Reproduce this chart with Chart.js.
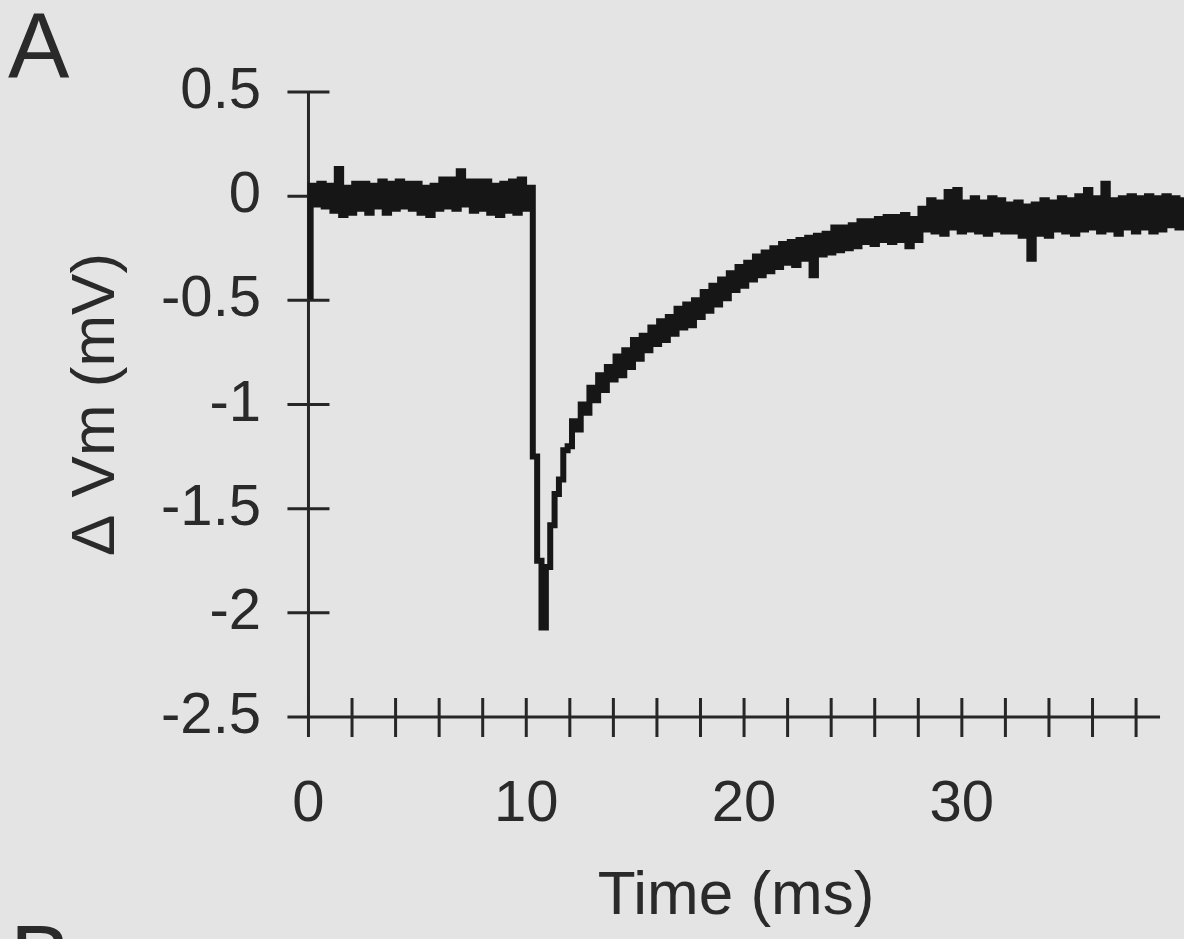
<!DOCTYPE html>
<html>
<head>
<meta charset="utf-8">
<title>Δ Vm trace</title>
<script src="https://cdn.jsdelivr.net/npm/chart.js@4.4.0/dist/chart.umd.min.js"></script>
<style>
  html, body { margin: 0; padding: 0; background: #e4e4e4; }
  #wrap { width: 1184px; height: 939px; }
</style>
</head>
<body>
<div id="wrap"><canvas id="trace" width="1184" height="939"></canvas></div>
<script>
// membrane potential trace, one sample every 0.2 ms starting at 0 ms
const sampleMs = 0.2
const dVm = [
    -0.48, 0.05, -0.04, 0.06, -0.05, 0.05, -0.07, 0.13, -0.09, 0.04,
    -0.08, 0.06, -0.06, 0.06, -0.08, 0.05, -0.05, 0.07, -0.08, 0.06,
    -0.06, 0.07, -0.05, 0.06, -0.06, 0.06, -0.08, 0.04, -0.09, 0.05,
    -0.06, 0.08, -0.05, 0.08, -0.06, 0.12, -0.04, 0.07, -0.07, 0.07,
    -0.06, 0.07, -0.08, 0.05, -0.09, 0.06, -0.07, 0.07, -0.08, 0.08,
    -0.06, 0.04, -1.25, -1.75, -2.07, -1.78, -1.58, -1.43, -1.36, -1.22,
    -1.20, -1.08, -1.12, -1.00, -1.04, -0.92, -0.98, -0.86, -0.93, -0.82,
    -0.88, -0.77, -0.86, -0.74, -0.82, -0.69, -0.78, -0.67, -0.74, -0.63,
    -0.71, -0.60, -0.69, -0.58, -0.66, -0.54, -0.63, -0.52, -0.62, -0.50,
    -0.58, -0.46, -0.55, -0.43, -0.52, -0.40, -0.49, -0.37, -0.45, -0.34,
    -0.43, -0.32, -0.40, -0.29, -0.38, -0.27, -0.36, -0.25, -0.34, -0.23,
    -0.32, -0.22, -0.33, -0.21, -0.30, -0.20, -0.38, -0.19, -0.28, -0.18,
    -0.27, -0.15, -0.26, -0.15, -0.25, -0.14, -0.24, -0.12, -0.22, -0.12,
    -0.23, -0.11, -0.21, -0.10, -0.22, -0.10, -0.21, -0.09, -0.24, -0.11,
    -0.21, -0.06, -0.16, -0.02, -0.17, -0.03, -0.18, 0.02, -0.15, 0.03,
    -0.17, -0.03, -0.16, -0.01, -0.17, -0.03, -0.18, -0.01, -0.16, -0.02,
    -0.17, -0.04, -0.17, -0.03, -0.19, -0.05, -0.30, -0.04, -0.18, -0.02,
    -0.19, -0.03, -0.16, -0.01, -0.17, -0.02, -0.18, 0.00, -0.16, 0.03,
    -0.15, -0.01, -0.17, 0.06, -0.16, -0.02, -0.18, -0.01, -0.15, 0.00,
    -0.17, -0.01, -0.15, 0.00, -0.17, -0.01, -0.16, 0.00, -0.14, -0.01,
    -0.15, -0.02
]

const xTickLabels = [0, 10, 20, 30]
const xTickMarks = [0, 2, 4, 6, 8, 10, 12, 14, 16, 18, 20, 22, 24, 26, 28, 30, 32, 34, 36, 38]
const yTicks = [0.5, 0, -0.5, -1, -1.5, -2, -2.5]

const ink = '#262626'
const textInk = '#2a2a2a'
const fontFamily = '"Liberation Sans", Arial, Helvetica, sans-serif'
const xAxisEnd = 39.1   // the drawn time axis stops a little short of the trace

// build {x, y} points for the linear time axis
const points = dVm.map((v, i) => ({x: +(i * sampleMs).toFixed(1), y: v}))

// axes that cross at the origin with ticks poking out on both sides
const crossAxes = {
    id: 'crossAxes',
    beforeDatasetsDraw(chart) {
        const {ctx, chartArea, scales: {x, y}} = chart
        const x0 = x.getPixelForValue(0)
        const yb = y.getPixelForValue(yTicks[yTicks.length - 1])
        ctx.save()
        ctx.strokeStyle = ink
        ctx.lineWidth = 3
        ctx.beginPath()
        ctx.moveTo(x0, y.getPixelForValue(yTicks[0]))
        ctx.lineTo(x0, yb)
        yTicks.forEach(v => {
            const py = y.getPixelForValue(v)
            ctx.moveTo(x0 - 21, py)
            ctx.lineTo(x0 + 21, py)
        })
        ctx.moveTo(chartArea.left, yb)
        ctx.lineTo(x.getPixelForValue(xAxisEnd), yb)
        xTickMarks.forEach(v => {
            const px = x.getPixelForValue(v)
            ctx.moveTo(px, yb - 19)
            ctx.lineTo(px, yb + 20)
        })
        ctx.stroke()
        ctx.restore()
    },
    afterDraw(chart) {
        const ctx = chart.ctx
        ctx.save()
        ctx.fillStyle = textInk
        ctx.font = '92px ' + fontFamily
        ctx.textBaseline = 'alphabetic'
        ctx.fillText('A', 8, 78)
        ctx.fillText('B', 10, 990)
        ctx.restore()
    }
}

new Chart(document.getElementById('trace'), {
    type: 'line',
    data: {
        datasets: [{
            label: 'ΔVm',
            data: points,
            borderColor: '#161616',
            borderWidth: 6,
            pointRadius: 0,
            stepped: 'middle',
            clip: false
        }]
    },
    options: {
        responsive: false,
        animation: false,
        devicePixelRatio: 1,
        layout: {padding: {left: 60, right: 0, top: 92, bottom: 0}},
        plugins: {legend: {display: false}, tooltip: {enabled: false}},
        scales: {
            x: {
                type: 'linear',
                min: -0.94,
                max: 40.2,
                afterFit: s => { s.height = 222 },
                afterBuildTicks: s => { s.ticks = xTickLabels.map(v => ({value: v})) },
                grid: {display: false, drawTicks: false},
                border: {display: false},
                ticks: {
                    color: textInk,
                    padding: 53,
                    maxRotation: 0,
                    font: {family: fontFamily, size: 58},
                    callback: v => String(v)
                },
                title: {
                    display: true,
                    text: 'Time (ms)',
                    color: textInk,
                    padding: {top: 0, bottom: 5},
                    font: {family: fontFamily, size: 62}
                }
            },
            y: {
                min: -2.5,
                max: 0.5,
                afterFit: s => { s.width = 228 },
                afterBuildTicks: s => { s.ticks = yTicks.map(v => ({value: v})) },
                grid: {display: false, drawTicks: false},
                border: {display: false},
                ticks: {
                    color: textInk,
                    padding: 27,
                    font: {family: fontFamily, size: 58},
                    callback: v => String(v)
                },
                title: {
                    display: true,
                    text: 'Δ Vm (mV)',
                    color: textInk,
                    padding: {top: 0, bottom: 0},
                    font: {family: fontFamily, size: 62}
                }
            }
        }
    },
    plugins: [crossAxes]
})
</script>
</body>
</html>
